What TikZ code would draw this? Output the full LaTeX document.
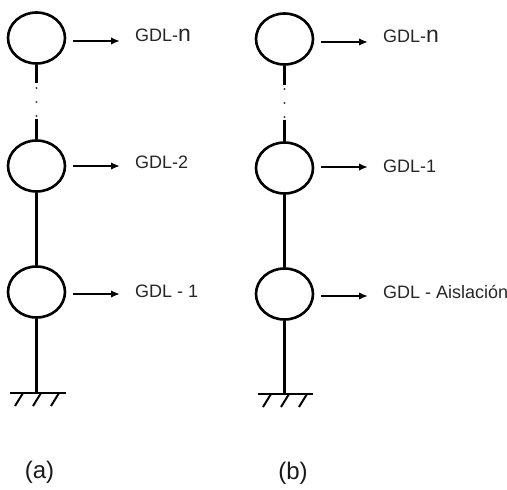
\documentclass[tikz,border=0pt]{standalone}
\usepackage{fontspec}
\setmainfont{Liberation Sans}
\usetikzlibrary{shapes.geometric,arrows.meta}

\tikzset{
  mass/.style={ellipse, draw, line width=2.6pt, minimum width=57pt, minimum height=51pt, inner sep=0pt},
  column/.style={line width=2.5pt},
  dofarrow/.style={line width=2.2pt, -{Latex[length=9pt,width=7.5pt]}, shorten <=7pt, shorten >=15pt},
  doflabel/.style={anchor=base west, inner sep=0pt, font=\fontsize{18}{20}\selectfont, text=black!85},
  caption/.style={inner sep=0pt, font=\fontsize{24}{26}\selectfont, text=black!90},
  hatch/.style={line width=2pt},
  gap/.style={fill=black!75, draw=none},
}

\begin{document}
\begin{tikzpicture}[x=1pt, y=-1pt]
\useasboundingbox (0,0) rectangle (507,490);

% ---------- column (a) ----------
\node[mass] (a3) at (36.5,38) {};
\node[mass] (a2) at (36.5,166) {};
\node[mass] (a1) at (36.5,292) {};
\coordinate (ag) at (36.5,393);
\coordinate (agl) at (10,393);
\coordinate (agr) at (66,393);
\coordinate (ad1) at (36.5,83);
\coordinate (ad2) at (36.5,119);

\node[doflabel] (la3) at (135,41) {GDL-{\fontsize{23}{24}\selectfont n}};
\node[doflabel] (la2) at (135,168) {GDL-2};
\node[doflabel] (la1) at (135,297) {GDL - 1};

\draw[column] (a3.south) -- (ad1);
\foreach \y in {88,102,116} \fill[gap] (36.5,\y) circle (1.2pt);
\draw[column] (ad2) -- (a2.north);
\draw[column] (a2.south) -- (a1.north);
\draw[column] (a1.south) -- (ag);
\draw[hatch] (agl) -- (agr);
\foreach \x in {23,41,59} \draw[hatch] (\x,393) -- (\x-8,406);

\draw[dofarrow] (a3.east |- 0,41) -- (la3.west |- 0,41);
\draw[dofarrow] (a2.east |- 0,166) -- (la2.west |- 0,166);
\draw[dofarrow] (a1.east |- 0,294) -- (la1.west |- 0,294);

\node[caption] (capa) at (39.5,472) {(a)};

% ---------- column (b) ----------
\node[mass] (b3) at (284.5,39) {};
\node[mass] (b2) at (284.5,168) {};
\node[mass] (b1) at (284.5,294) {};
\coordinate (bg) at (284.5,394);
\coordinate (bgl) at (258,394);
\coordinate (bgr) at (313,394);
\coordinate (bd1) at (284.5,85);
\coordinate (bd2) at (284.5,120);

\node[doflabel] (lb3) at (383,42) {GDL-{\fontsize{23}{24}\selectfont n}};
\node[doflabel] (lb2) at (383,172) {GDL-1};
\node[doflabel] (lb1) at (383,298) {GDL - Aislación};

\draw[column] (b3.south) -- (bd1);
\foreach \y in {89,103,117} \fill[gap] (284.5,\y) circle (1.2pt);
\draw[column] (bd2) -- (b2.north);
\draw[column] (b2.south) -- (b1.north);
\draw[column] (b1.south) -- (bg);
\draw[hatch] (bgl) -- (bgr);
\foreach \x in {271,289,307} \draw[hatch] (\x,394) -- (\x-8,407);

\draw[dofarrow] (b3.east |- 0,42) -- (lb3.west |- 0,42);
\draw[dofarrow] (b2.east |- 0,167) -- (lb2.west |- 0,167);
\draw[dofarrow] (b1.east |- 0,296) -- (lb1.west |- 0,296);

\node[caption] (capb) at (293,473) {(b)};
\end{tikzpicture}
\end{document}
